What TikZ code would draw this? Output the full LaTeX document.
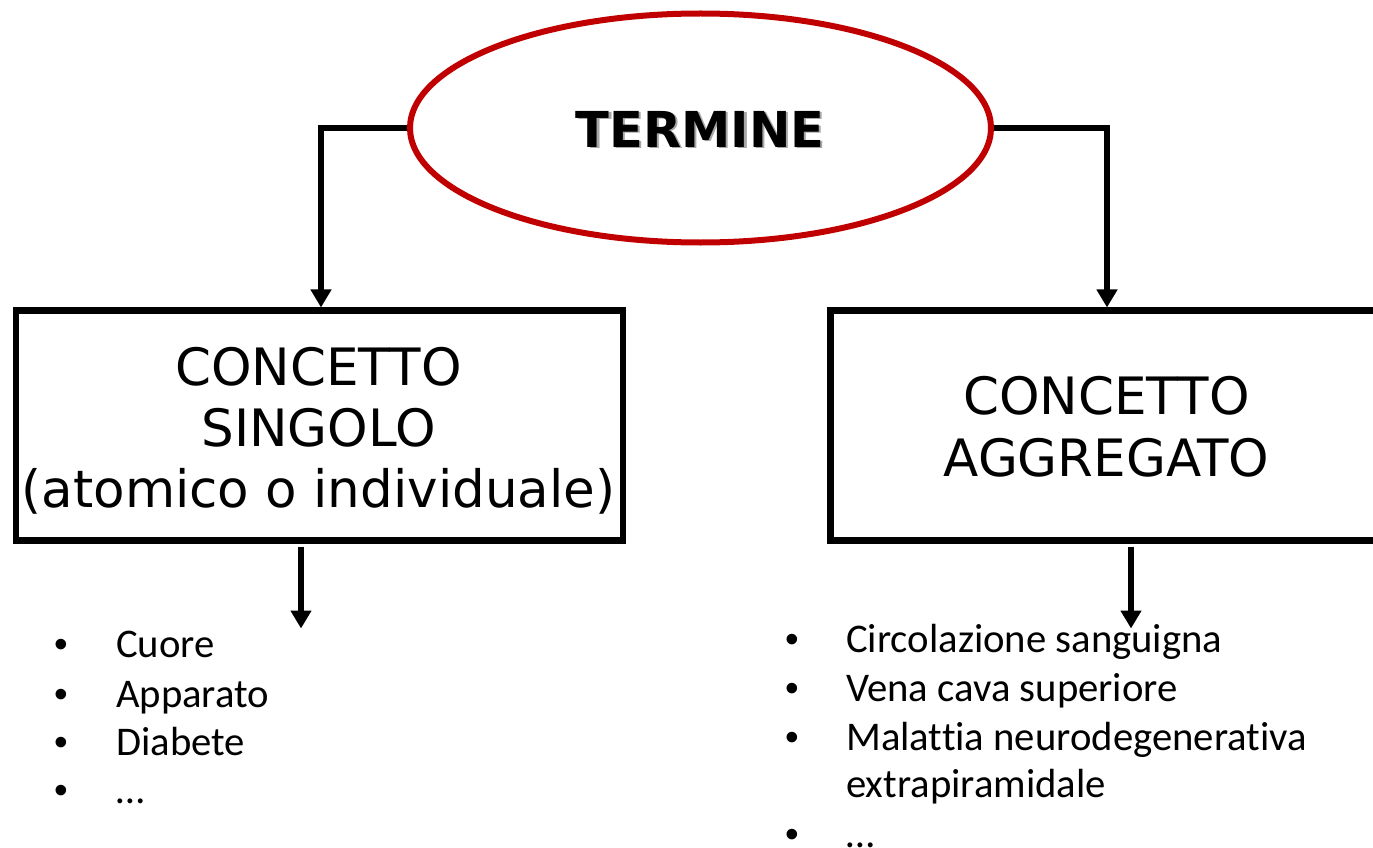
\documentclass[tikz,border=0pt]{standalone}
\usepackage{fontspec}
\setmainfont{DejaVu Sans}
\newfontfamily\listfont[Ligatures=NoCommon]{Carlito}
\newfontfamily\bulletfont{Liberation Sans}
\usetikzlibrary{arrows.meta,shapes.geometric}
\definecolor{ovalred}{HTML}{C00000}
\begin{document}
\begin{tikzpicture}[x=1pt,y=-1pt,
  conceptbox/.style={draw=black, line width=6.5pt, rectangle, inner sep=0pt},
  conn/.style={draw=black, line width=6pt, -{Triangle[width=20pt,length=18pt]}},
  boxline/.style={font=\fontsize{51.5}{60}\selectfont, anchor=base, inner sep=0pt},
  titletext/.style={font=\bfseries\fontsize{49.5}{55}\selectfont, anchor=base, inner sep=0pt},
  item/.style={font=\listfont\fontsize{40.7}{47}\selectfont, anchor=base west, inner sep=0pt},
  bul/.style={font=\bulletfont\fontsize{39}{47}\selectfont, anchor=base, inner sep=0pt}]
\useasboundingbox (0,0) rectangle (1373,848);
\fill[white] (0,0) rectangle (1373,848);

% oval
\node[ellipse, draw=ovalred, line width=6pt, minimum width=581pt, minimum height=229pt, inner sep=0pt] (term) at (700.5,128) {};
\node[titletext, text=black!35] (termshadow) at (702.5,149) {TERMINE};
\node[titletext, text=black] (termtext) at (700,147) {TERMINE};

% boxes
\node[conceptbox, minimum width=607pt, minimum height=229.6pt] (single) at (319.5,425.5) {};
\node[conceptbox, minimum width=560pt, minimum height=229.6pt] (aggr) at (1110.5,425.5) {};

\node[boxline] (s1) at (318.5,385) {CONCETTO};
\node[boxline] (s2) at (318.5,446) {SINGOLO};
\node[boxline] (s3) at (318.5,507) {(atomico o individuale)};

\node[boxline] (a1) at (1106.5,414) {CONCETTO};
\node[boxline] (a2) at (1106.5,476) {AGGREGATO};

% connectors
\coordinate (lcorner) at (321,128);
\coordinate (rcorner) at (1107,128);
\draw[conn] (term.west) -- (lcorner) -- (single.north -| lcorner);
\draw[conn] (term.east) -- (rcorner) -- (aggr.north -| rcorner);

\coordinate (lend) at (301,628.5);
\coordinate (rend) at (1131,628.5);
\draw[conn] ([yshift=-3pt]single.south -| lend) -- (lend);
\draw[conn] ([yshift=-3pt]aggr.south -| rend) -- (rend);

% left list
\node[bul] (lb1) at (61,657) {•};
\node[bul] (lb2) at (61,707) {•};
\node[bul] (lb3) at (61,755) {•};
\node[bul] (lb4) at (61,803) {•};
\node[item] (li1) at (116,657) {Cuore};
\node[item] (li2) at (116,707) {Apparato};
\node[item] (li3) at (116,755) {Diabete};
\node[item] (li4) at (116,803) {…};

% right list
\node[bul] (rb1) at (792,652) {•};
\node[bul] (rb2) at (792,701) {•};
\node[bul] (rb3) at (792,750) {•};
\node[bul] (rb4) at (792,847) {•};
\node[item] (ri1) at (846,652) {Circolazione sanguigna};
\node[item] (ri2) at (846,701) {Vena cava superiore};
\node[item] (ri3) at (846,750) {Malattia neurodegenerativa};
\node[item] (ri3b) at (846,797) {extrapiramidale};
\node[item] (ri4) at (846,847) {…};
\end{tikzpicture}
\end{document}
